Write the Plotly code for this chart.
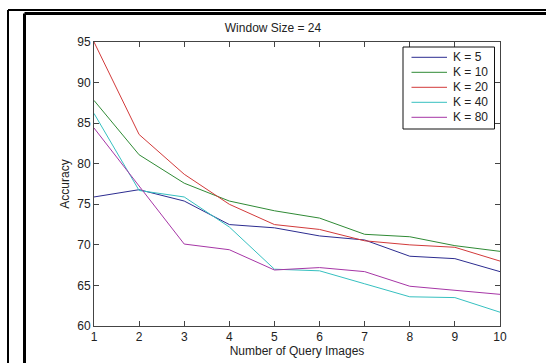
import plotly.graph_objects as go

queries = [1, 2, 3, 4, 5, 6, 7, 8, 9, 10]
k5 = [75.9, 76.8, 75.4, 72.5, 72.1, 71.1, 70.6, 68.6, 68.3, 66.7]
k10 = [87.8, 81.1, 77.6, 75.4, 74.2, 73.3, 71.3, 71.0, 69.9, 69.2]
k20 = [95.0, 83.6, 78.7, 75.0, 72.5, 71.9, 70.5, 70.0, 69.7, 68.0]
k40 = [86.2, 76.7, 75.9, 72.2, 67.0, 66.8, 65.2, 63.6, 63.5, 61.7]
k80 = [84.4, 77.3, 70.1, 69.4, 66.9, 67.2, 66.7, 64.9, 64.4, 63.9]
series_names = ["K = 5", "K = 10", "K = 20", "K = 40", "K = 80"]
series_vals = [k5, k10, k20, k40, k80]
colors = ["#2c2c90", "#2f8a35", "#d23a3a", "#36c0c0", "#a636a6"]
yticks = [60, 65, 70, 75, 80, 85, 90, 95]

W, H = 546, 363
L, R, T, B = 94, 46, 42, 37
pw, ph = W - L - R, H - T - B
FONT = "Liberation Sans, Arial, Helvetica"
TXT = "#222"

def px(x):
    return (x - L) / pw

def py(y):
    return (H - B - y) / ph

fig = go.Figure()
for name, vals, c in zip(series_names, series_vals, colors):
    fig.add_trace(go.Scatter(x=queries, y=vals, mode="lines", name=name,
                             line=dict(color=c, width=1), showlegend=False))

axis_common = dict(showline=True, linecolor="#444", linewidth=1, mirror="ticks",
                   ticks="inside", ticklen=5, tickcolor="#444", showgrid=False,
                   zeroline=False, automargin=False,
                   tickfont=dict(family=FONT, size=12, color=TXT))

fig.update_xaxes(range=[1, 10], tickvals=queries, **axis_common,
                 title=dict(text="Number of Query Images", standoff=1,
                            font=dict(family=FONT, size=12, color=TXT)))
fig.update_yaxes(range=[60, 95], tickvals=yticks, **axis_common,
                 title=dict(text="Accuracy", standoff=5,
                            font=dict(family=FONT, size=12, color=TXT)))

fig.update_layout(
    width=W, height=H, autosize=False,
    margin=dict(l=L, r=R, t=T, b=B, pad=0),
    paper_bgcolor="white", plot_bgcolor="white",
    title=dict(text="Window Size = 24", x=px(297), xanchor="center",
               y=1 - 28 / H, yanchor="middle",
               font=dict(family=FONT, size=12, color=TXT)),
    showlegend=False,
)

shapes = [
    # picture border
    dict(type="line", xref="paper", yref="paper", x0=px(8), x1=px(8), y0=py(10), y1=py(380),
         line=dict(color="black", width=2)),
    dict(type="line", xref="paper", yref="paper", x0=px(8), x1=px(560), y0=py(10), y1=py(10),
         line=dict(color="black", width=2)),
    dict(type="line", xref="paper", yref="paper", x0=px(24.5), x1=px(24.5), y0=py(13.5), y1=py(380),
         line=dict(color="black", width=3)),
    dict(type="line", xref="paper", yref="paper", x0=px(24.5), x1=px(560), y0=py(13.5), y1=py(13.5),
         line=dict(color="black", width=3)),
    # legend box
    dict(type="rect", xref="paper", yref="paper", x0=px(403), x1=px(494.5), y0=py(47), y1=py(129),
         line=dict(color="#111", width=1), fillcolor="white", layer="above"),
]
annotations = []
for i, (name, c) in enumerate(zip(series_names, colors)):
    yy = 57.3 + 15 * i
    shapes.append(dict(type="line", xref="paper", yref="paper", x0=px(411.5), x1=px(447),
                       y0=py(yy), y1=py(yy), line=dict(color=c, width=1), layer="above"))
    annotations.append(dict(text=name, xref="paper", yref="paper", x=px(451), y=py(yy),
                            xanchor="left", yanchor="middle", showarrow=False,
                            font=dict(family=FONT, size=12, color=TXT)))
fig.update_layout(shapes=shapes, annotations=annotations)

fig.write_html("out.html")
